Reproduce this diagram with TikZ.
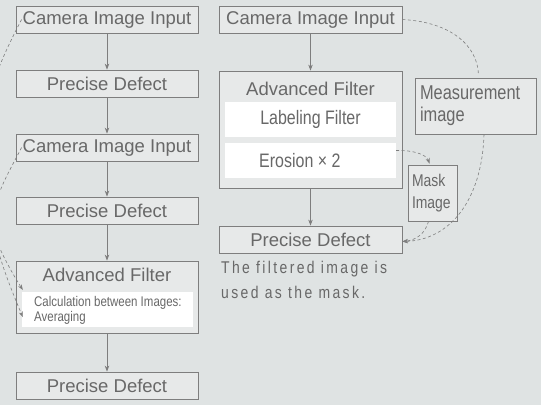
\documentclass[tikz,border=0pt]{standalone}
\usepackage{fontspec}
\setmainfont{Liberation Sans}
\newfontfamily\condfont[FakeStretch=0.82]{Liberation Sans}
\newfontfamily\notefont[FakeStretch=0.82,LetterSpace=14]{Liberation Sans}
\usetikzlibrary{arrows.meta}

\definecolor{bgcol}{HTML}{DFE3E3}
\definecolor{boxcol}{HTML}{E7E9E9}
\definecolor{linecol}{HTML}{7E7E7E}
\definecolor{txtcol}{HTML}{686868}

\tikzset{
  box/.style={draw=linecol, line width=0.8pt, fill=boxcol, text=txtcol, inner sep=0pt,
    minimum height=27pt, font=\fontsize{18.5}{20}\selectfont},
  wbox/.style={fill=white, inner sep=0pt, text=txtcol, minimum height=35pt},
  flow/.style={-{Stealth[length=6pt,width=4.5pt]}, draw=linecol, line width=0.8pt},
  dline/.style={draw=linecol, line width=0.6pt, dash pattern=on 3pt off 2.5pt},
  dtip/.style={-{Stealth[length=5.5pt,width=4pt]}},
}

\begin{document}
\begin{tikzpicture}[x=1pt, y=-1pt]
  \fill[bgcol] (0,0) rectangle (541,405);
  \useasboundingbox (0,0) rectangle (541,405);

  % 左列
  \node[box, minimum width=182pt] (cam1) at (107,19.5) {Camera Image Input};
  \node[box, minimum width=182pt] (pd1) at (107,83.5) {Precise Defect};
  \node[box, minimum width=182pt] (cam2) at (107,147.5) {Camera Image Input};
  \node[box, minimum width=182pt] (pd2) at (107,210.5) {Precise Defect};
  \node[box, minimum width=182pt, minimum height=72pt] (afl) at (107,297) {};
  \node[text=txtcol, font=\fontsize{18.5}{20}\selectfont] (aflt) at (107,275) {Advanced Filter};
  \node[wbox, minimum width=171pt] (calc) at (107.5,309.5) {};
  \node[text=txtcol, anchor=west, align=left, inner sep=0pt,
    font=\condfont\fontsize{14}{15.5}\selectfont] (calct) at (34,310.5)
    {Calculation between Images:\\Averaging};
  \node[box, minimum width=182pt] (pd3) at (107,385.5) {Precise Defect};

  \draw[flow] (cam1) -- (pd1);
  \draw[flow] (pd1) -- (cam2);
  \draw[flow] (cam2) -- (pd2);
  \draw[flow] (pd2) -- (afl);
  \draw[flow] (afl) -- (pd3);

  % 虚线回到平均
  \draw[dline, dtip] ([xshift=6pt]cam1.west) .. controls (-30,117) and (-40,190) .. ([xshift=1pt,yshift=19.5pt]calc.west);
  \draw[dline, dtip] ([xshift=6pt]cam2.west) .. controls (-10,208) and (-20,216) .. ([xshift=1pt,yshift=-7.5pt]calc.west);

  % 右列
  \node[box, minimum width=183pt] (camr) at (310.5,19.5) {Camera Image Input};
  \node[box, minimum width=183pt, minimum height=117pt] (afr) at (310.5,129.5) {};
  \node[text=txtcol, font=\fontsize{18.5}{20}\selectfont] (afrt) at (310.5,89) {Advanced Filter};
  \node[wbox, minimum width=171pt, font=\condfont\fontsize{19.5}{21}\selectfont] (lab) at (310.5,119.5) {Labeling Filter};
  \node[wbox, minimum width=171pt] (eros) at (310.5,160.5) {};
  \node[text=txtcol, anchor=west, inner sep=0pt,
    font=\condfont\fontsize{19.5}{21}\selectfont] (erost) at (259,160.5) {Erosion × 2};
  \node[box, minimum width=183pt] (pdr) at (310.5,239.5) {Precise Defect};
  \node[text=txtcol, anchor=north west, align=left, inner sep=0pt,
    font=\notefont\fontsize{17}{25}\selectfont] (note) at (221,261)
    {The filtered image is\\used as the mask.};

  \node[box, minimum width=121pt, minimum height=56pt, text width=111pt, align=left,
    font=\condfont\fontsize{20}{22}\selectfont] (meas) at (475.5,106) {Measurement\\image};
  \node[box, minimum width=49pt, minimum height=56pt, text width=41pt, align=left,
    font=\condfont\fontsize{17}{22}\selectfont] (mask) at (432.5,193) {Mask\\Image};

  \draw[flow] (camr) -- (afr);
  \draw[flow] (afr) -- (pdr);

  \draw[dline] (camr.east) .. controls (450,22) and (478,45) .. ([xshift=3pt,yshift=2pt]meas.north);
  \draw[dline, dtip] ([xshift=8.5pt]meas.south) .. controls (482,200) and (450,240) .. ([yshift=-2pt]pdr.east);
  \draw[dline, dtip] ([yshift=10pt]eros.east) .. controls (412,150) and (426,154) .. ([xshift=-3pt,yshift=1pt]mask.north);
  \draw[dline, dtip] ([xshift=-4pt]mask.south) .. controls (425,234) and (416,240) .. ([yshift=-2pt]pdr.east);
\end{tikzpicture}
\end{document}
